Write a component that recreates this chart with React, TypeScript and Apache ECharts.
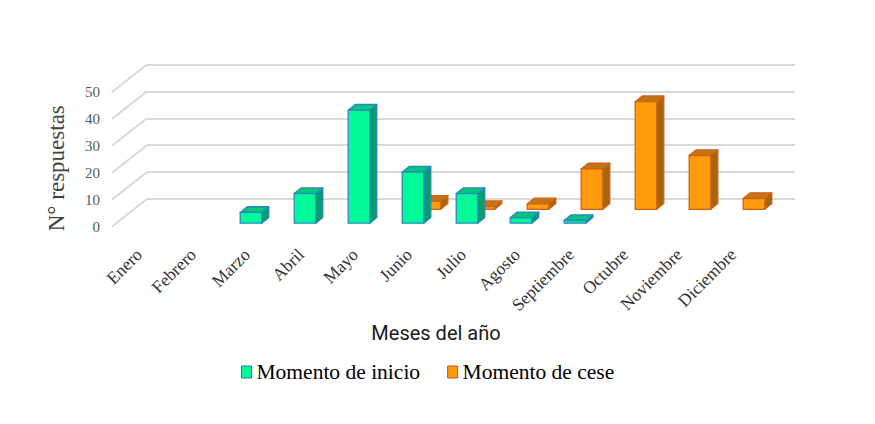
import React, { useEffect, useRef } from 'react';
import * as echarts from 'echarts';

// months on the x axis
const months = [
  'Enero', 'Febrero', 'Marzo', 'Abril', 'Mayo', 'Junio',
  'Julio', 'Agosto', 'Septiembre', 'Octubre', 'Noviembre', 'Diciembre'
];
// answers per month
const inicio = [0, 0, 4, 11, 42, 19, 11, 2, 1, 0, 0, 0];
const cese = [0, 0, 0, 0, 0, 3, 1, 2, 15, 40, 20, 4];
const ticks = [0, 10, 20, 30, 40, 50];

const SERIF = "'Liberation Serif', 'Times New Roman', serif";

// oblique 3d look: back wall offset and bar depth
const WALL_DX = 35;
const WALL_DY = -27.5;
const DEPTH_DX = 7;
const DEPTH_DY = -5.7;

interface BarLook {
  dx: number;
  dy: number;
  front: string;
  top: string;
  side: string;
  stroke: string;
}

const barRenderer = (look: BarLook) => (params: any, api: any) => {
  const v = api.value(1);
  if (!v) return null;
  const idx = api.value(0);
  const base = api.coord([idx, 0]);
  const head = api.coord([idx, v]);
  const bw = api.size([1, 0])[0] * 0.4;
  const l = base[0] - bw / 2 + look.dx;
  const r = l + bw;
  const b = base[1] + look.dy;
  const t = head[1] + look.dy;
  const lw = 1.3;
  return {
    type: 'group',
    children: [
      {
        type: 'polygon',
        shape: { points: [[r, t], [r + DEPTH_DX, t + DEPTH_DY], [r + DEPTH_DX, b + DEPTH_DY], [r, b]] },
        style: { fill: look.side, stroke: look.stroke, lineWidth: lw, lineJoin: 'round' }
      },
      {
        type: 'polygon',
        shape: { points: [[l, t], [r, t], [r + DEPTH_DX, t + DEPTH_DY], [l + DEPTH_DX, t + DEPTH_DY]] },
        style: { fill: look.top, stroke: look.stroke, lineWidth: lw, lineJoin: 'round' }
      },
      {
        type: 'rect',
        shape: { x: l, y: t, width: bw, height: b - t },
        style: { fill: look.front, stroke: look.stroke, lineWidth: lw }
      }
    ]
  };
};

const Chart3D: React.FC = () => {
  const chartRef = useRef<HTMLDivElement>(null);

  useEffect(() => {
    if (!chartRef.current) return;
    document.body.style.margin = '0';
    const chart = echarts.init(chartRef.current, null, { renderer: 'svg' });

    const gridLeft = 112;
    const gridTop = 92;
    const gridW = 648;
    const gridH = 134.5;

    const option: any = {
      animation: false,
      legend: {
        data: [
          { name: 'Momento de inicio', itemStyle: { color: '#00fa9a', borderColor: '#2e75b6', borderWidth: 1 } },
          { name: 'Momento de cese', itemStyle: { color: '#ff9a0a', borderColor: '#c55a11', borderWidth: 1 } }
        ],
        left: 241,
        top: 361,
        padding: 0,
        icon: 'rect',
        itemWidth: 10,
        itemHeight: 12,
        itemGap: 27,
        textStyle: { fontFamily: SERIF, fontSize: 21.5, color: '#000' }
      },
      grid: [
        { left: gridLeft, top: gridTop, width: gridW, height: gridH },
        { left: gridLeft + WALL_DX, top: gridTop + WALL_DY, width: gridW, height: gridH }
      ],
      xAxis: [
        {
          type: 'category',
          gridIndex: 0,
          data: months,
          axisLine: { show: false },
          axisTick: { show: false },
          axisLabel: {
            rotate: 45,
            margin: 25,
            interval: 0,
            fontFamily: SERIF,
            fontSize: 17.5,
            color: '#333'
          },
          name: 'Meses del año',
          nameLocation: 'middle',
          nameGap: 96,
          nameTextStyle: { fontFamily: 'Roboto', fontSize: 20, color: '#1a1a1a' }
        },
        {
          type: 'category',
          gridIndex: 1,
          data: months,
          show: false
        }
      ],
      yAxis: [
        {
          type: 'value',
          gridIndex: 0,
          min: 0,
          max: 50,
          interval: 10,
          axisLine: { show: false },
          axisTick: { show: false },
          splitLine: { show: false },
          axisLabel: { margin: 12, fontFamily: SERIF, fontSize: 15, color: '#595959' },
          name: 'N° respuestas',
          nameLocation: 'middle',
          nameGap: 44,
          nameTextStyle: { fontFamily: SERIF, fontSize: 23, color: '#404040', padding: [0, 18, 0, 0] }
        },
        {
          type: 'value',
          gridIndex: 1,
          min: 0,
          max: 50,
          interval: 10,
          axisLine: { show: false },
          axisTick: { show: false },
          axisLabel: { show: false },
          splitLine: { lineStyle: { color: '#d9d9d9', width: 2 } }
        }
      ],
      series: [
        {
          // side wall lines from the front tick labels to the back wall
          type: 'custom',
          name: 'wall',
          xAxisIndex: 0,
          yAxisIndex: 0,
          silent: true,
          z: 1,
          data: ticks.map(t => [0, t]),
          encode: { x: 0, y: 1 },
          renderItem: (params: any, api: any) => {
            const cs = params.coordSys;
            const y = api.coord([0, api.value(1)])[1];
            return {
              type: 'line',
              shape: { x1: cs.x, y1: y, x2: cs.x + WALL_DX, y2: y + WALL_DY },
              style: { stroke: '#d9d9d9', lineWidth: 2 }
            };
          }
        },
        {
          type: 'custom',
          name: 'Momento de cese',
          xAxisIndex: 0,
          yAxisIndex: 0,
          z: 3,
          itemStyle: { color: '#ff9a0a', borderColor: '#c55a11' },
          data: cese.map((v, i) => [i, v]),
          encode: { x: 0, y: 1 },
          renderItem: barRenderer({
            dx: 21, dy: -17.2,
            front: '#ff9a0a', top: '#c07612', side: '#a8660c', stroke: '#d2601a'
          })
        },
        {
          type: 'custom',
          name: 'Momento de inicio',
          xAxisIndex: 0,
          yAxisIndex: 0,
          z: 4,
          itemStyle: { color: '#00fa9a', borderColor: '#2e75b6' },
          data: inicio.map((v, i) => [i, v]),
          encode: { x: 0, y: 1 },
          renderItem: barRenderer({
            dx: 4, dy: -3.3,
            front: '#00fa9a', top: '#00c77c', side: '#00a263', stroke: '#2e86c1'
          })
        }
      ]
    };

    chart.setOption(option);

    return () => {
      chart.dispose();
    };
  }, []);

  return <div ref={chartRef} style={{ width: '875px', height: '424px' }} />;
};

export default function App() {
  return <Chart3D />;
}
